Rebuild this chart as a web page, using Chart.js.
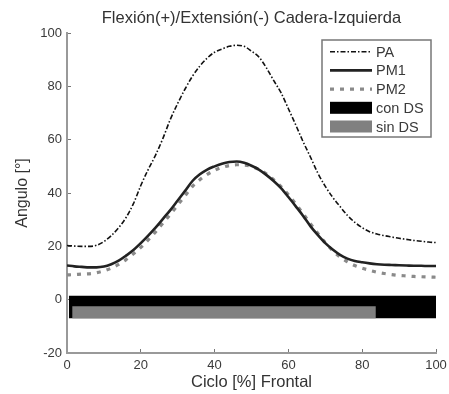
<!DOCTYPE html>
<html>
<head>
<meta charset="utf-8">
<script src="https://cdn.jsdelivr.net/npm/chart.js@4/dist/chart.umd.min.js"></script>
<style>
  body { margin: 0; background: #fff; }
  canvas { display: block; }
</style>
</head>
<body>
<canvas id="chart" width="449" height="394"></canvas>
<script>
// cycle positions (% of frontal cycle)
const cycle = [0, 2, 4, 6, 8, 10, 12, 14, 16, 18, 20, 22, 24, 26, 28, 30, 32, 34, 36, 38, 40,
  42, 44, 46, 48, 50, 52, 54, 56, 58, 60, 62, 64, 66, 68, 70, 72, 74, 76, 78, 80,
  82, 84, 86, 88, 90, 92, 94, 96, 98, 100];

const paValues = [20.3, 20.1, 20.0, 20.0, 20.4, 21.8, 24.0, 27.0, 30.8, 36.0, 42.8,
  48.8, 54.2, 60.5, 67.6, 73.6, 79.0, 83.8, 87.6, 90.6, 92.8,
  94.0, 95.0, 95.4, 95.0, 93.2, 91.0, 87.0, 82.2, 77.6, 71.6,
  65.5, 59.2, 53.4, 47.4, 42.5, 38.4, 34.9, 31.6, 29.0, 27.0,
  25.5, 24.6, 24.0, 23.5, 23.0, 22.6, 22.2, 21.9, 21.6, 21.4];

const pm1Values = [12.8, 12.5, 12.3, 12.1, 12.1, 12.4, 13.3, 14.6, 16.5, 18.6, 21.2,
  24.0, 27.0, 30.3, 33.6, 37.2, 40.8, 44.5, 47.0, 48.8, 50.0,
  51.0, 51.6, 51.8, 51.3, 50.2, 48.8, 46.8, 44.5, 41.8, 38.5,
  35.0, 31.4, 27.5, 24.2, 21.2, 18.8, 16.8, 15.4, 14.5, 14.0,
  13.6, 13.3, 13.1, 13.0, 12.9, 12.8, 12.7, 12.7, 12.6, 12.6];

const pm2Values = [9.3, 9.4, 9.6, 9.7, 10.1, 10.8, 11.8, 13.2, 15.0, 17.2, 19.6,
  22.4, 25.4, 28.7, 32.0, 35.5, 39.0, 42.5, 45.0, 47.0, 48.5,
  49.6, 50.3, 50.6, 50.5, 50.0, 48.8, 47.2, 45.0, 42.4, 39.3,
  35.9, 32.2, 28.4, 24.8, 21.4, 18.4, 16.0, 14.2, 12.8, 11.8,
  11.0, 10.3, 9.8, 9.4, 9.1, 8.9, 8.7, 8.6, 8.5, 8.4];

// support phase bars: [start, end] along cycle, [top, bottom] in degrees
const conDsRange = [0.5, 100];
const conDsLevels = [1.5, -7];
const sinDsRange = [1.4, 83.7];
const sinDsLevels = [-2.5, -7];

const xTicks = [0, 20, 40, 60, 80, 100];
const yTicks = [-20, 0, 20, 40, 60, 80, 100];
const legendLabels = ['PA', 'PM1', 'PM2', 'con DS', 'sin DS'];
const chartTitle = 'Flexión(+)/Extensión(-) Cadera-Izquierda';

const toPoints = (vals) => cycle.map((c, i) => ({ x: c, y: vals[i] }));
const barEdge = (range, level) => range.map(x => ({ x: x, y: level }));

const lineBase = { pointRadius: 0, fill: false, cubicInterpolationMode: 'monotone', order: 1 };

const datasets = [
  { ...lineBase, label: 'PA', data: toPoints(paValues), borderColor: '#111', borderWidth: 1.6, borderDash: [5, 2, 1.5, 2] },
  { ...lineBase, label: 'PM1', data: toPoints(pm1Values), borderColor: '#222', borderWidth: 2.6 },
  { ...lineBase, label: 'PM2', data: toPoints(pm2Values), borderColor: '#8a8a8a', borderWidth: 3.2, borderDash: [4, 6] },
  { label: 'con DS', data: barEdge(conDsRange, conDsLevels[0]), borderWidth: 0, pointRadius: 0, fill: '+1', backgroundColor: '#000', order: 3 },
  { label: 'con DS base', data: barEdge(conDsRange, conDsLevels[1]), borderWidth: 0, pointRadius: 0, fill: false, order: 3 },
  { label: 'sin DS', data: barEdge(sinDsRange, sinDsLevels[0]), borderWidth: 0, pointRadius: 0, fill: '+1', backgroundColor: '#808080', order: 2 },
  { label: 'sin DS base', data: barEdge(sinDsRange, sinDsLevels[1]), borderWidth: 0, pointRadius: 0, fill: false, order: 2 }
];

const font = 'Liberation Sans, Arial, sans-serif';
const textColor = '#3a3a3a';

// title centred over the axes, as matlab does it
const axesTitle = {
  id: 'axesTitle',
  afterDraw(chart) {
    const { ctx, chartArea } = chart;
    ctx.save();
    ctx.font = '16.5px ' + font;
    ctx.fillStyle = '#333';
    ctx.textAlign = 'center';
    ctx.textBaseline = 'middle';
    ctx.fillText(chartTitle, (chartArea.left + chartArea.right) / 2, 18.5);
    ctx.restore();
  }
};

// legend box drawn inside the plot area, upper right
const insideLegend = {
  id: 'insideLegend',
  afterDatasetsDraw(chart) {
    const { ctx, chartArea } = chart;
    const w = 109, h = 97;
    const left = chartArea.right - 5 - w;
    const top = chartArea.top + 7;
    ctx.save();
    ctx.fillStyle = '#fff';
    ctx.fillRect(left, top, w, h);
    ctx.strokeStyle = '#777';
    ctx.lineWidth = 1.5;
    ctx.strokeRect(left, top, w, h);
    ctx.font = '14.5px ' + font;
    ctx.textBaseline = 'middle';
    const dsIndex = [0, 1, 2, 3, 5];
    legendLabels.forEach((label, i) => {
      const ds = chart.data.datasets[dsIndex[i]];
      const y = top + 11.7 + i * 18.7;
      const x0 = left + 8, x1 = left + 50;
      if (i < 3) {
        ctx.strokeStyle = ds.borderColor;
        ctx.lineWidth = ds.borderWidth;
        ctx.setLineDash(ds.borderDash || []);
        ctx.beginPath();
        ctx.moveTo(x0, y);
        ctx.lineTo(x1, y);
        ctx.stroke();
        ctx.setLineDash([]);
      } else {
        ctx.fillStyle = ds.backgroundColor;
        ctx.fillRect(x0, y - 6, x1 - x0, 12);
      }
      ctx.fillStyle = textColor;
      ctx.fillText(label, left + 54, y + 1);
    });
    ctx.restore();
  }
};

const axisGrid = { display: true, drawOnChartArea: false, drawTicks: true, tickLength: -4, color: '#777', lineWidth: 1 };

new Chart(document.getElementById('chart'), {
  type: 'line',
  data: { datasets: datasets },
  options: {
    responsive: false,
    animation: false,
    layout: { padding: { left: 0, right: 13, top: 33, bottom: 0 } },
    plugins: {
      legend: { display: false },
      tooltip: { enabled: false },
      title: { display: false }
    },
    scales: {
      x: {
        type: 'linear',
        min: 0,
        max: 100,
        afterBuildTicks: (scale) => { scale.ticks = xTicks.map(v => ({ value: v })); },
        afterFit: (scale) => {
          scale.height = 41;
          scale.paddingLeft = 0;
          scale.paddingRight = 0;
        },
        grid: axisGrid,
        border: { color: '#999', width: 2 },
        ticks: { color: textColor, font: { family: font, size: 13 }, padding: 9, maxRotation: 0 },
        title: {
          display: true,
          text: 'Ciclo [%] Frontal',
          color: '#333',
          font: { family: font, size: 16.5 },
          padding: { top: 0, bottom: 1.2 }
        }
      },
      y: {
        min: -20,
        max: 100,
        afterBuildTicks: (scale) => { scale.ticks = yTicks.map(v => ({ value: v })); },
        afterFit: (scale) => { scale.width = 67; },
        grid: axisGrid,
        border: { color: '#999', width: 2 },
        ticks: { color: textColor, font: { family: font, size: 13 }, padding: 9 },
        title: {
          display: true,
          text: 'Angulo [°]',
          color: '#333',
          font: { family: font, size: 16 },
          padding: { top: 12.9, bottom: 0 }
        }
      }
    }
  },
  plugins: [insideLegend, axesTitle]
});
</script>
</body>
</html>
